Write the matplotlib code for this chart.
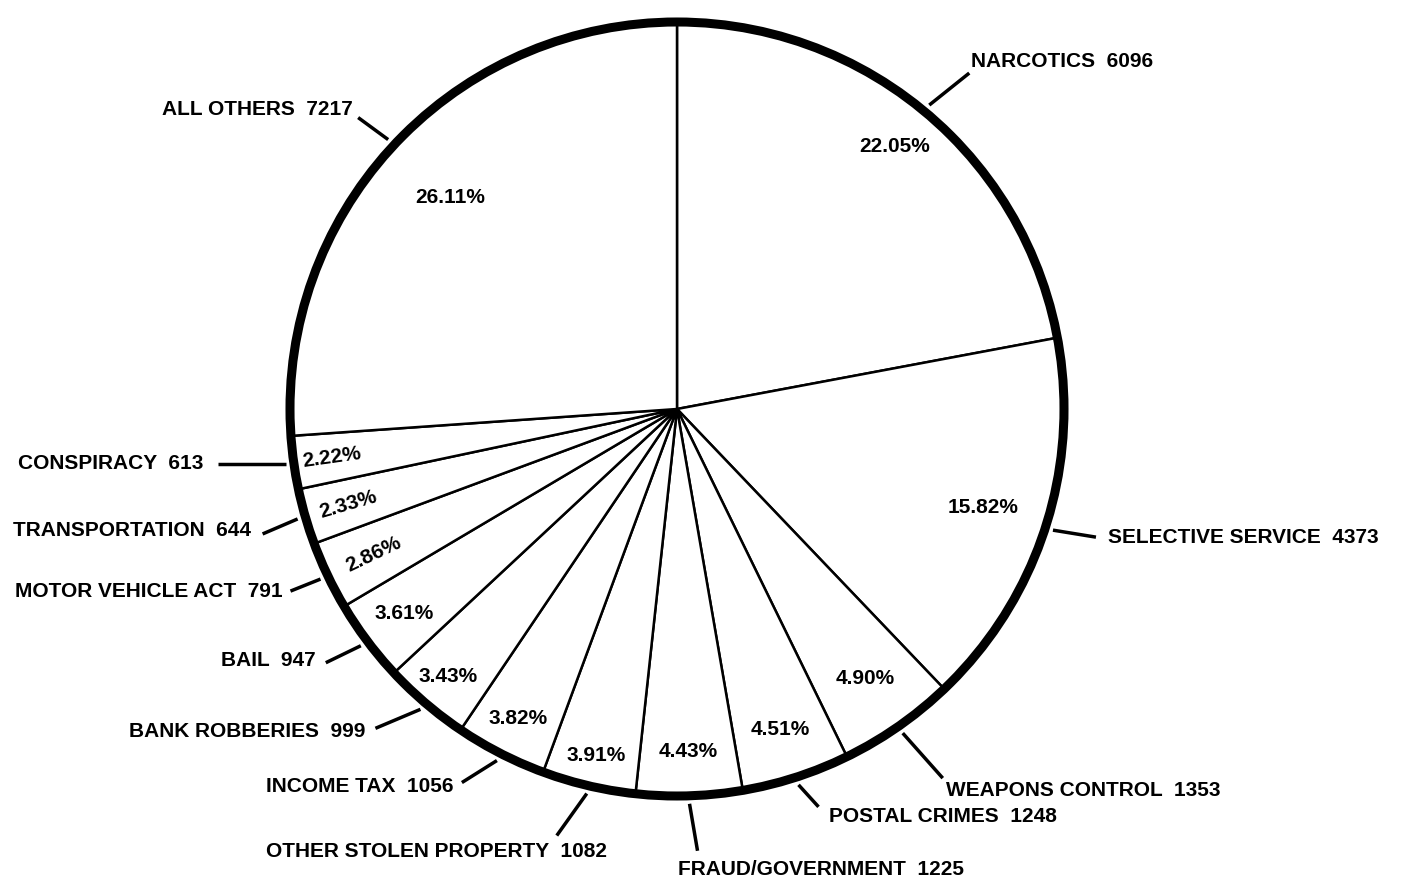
import matplotlib.pyplot as plt
import numpy as np

# data (clockwise from 12 o'clock)
categories = ['NARCOTICS', 'SELECTIVE SERVICE', 'WEAPONS CONTROL', 'POSTAL CRIMES',
              'FRAUD/GOVERNMENT', 'OTHER STOLEN PROPERTY', 'INCOME TAX', 'BANK ROBBERIES',
              'BAIL', 'MOTOR VEHICLE ACT', 'TRANSPORTATION', 'CONSPIRACY', 'ALL OTHERS']
counts = [6096, 4373, 1353, 1248, 1225, 1082, 1056, 999, 947, 791, 644, 613, 7217]
pct_labels = ['22.05%', '15.82%', '4.90%', '4.51%', '4.43%', '3.91%', '3.82%',
              '3.43%', '3.61%', '2.86%', '2.33%', '2.22%', '26.11%']

# layout: pct text radius, leader vector (px), text offset (px), alignment
pct_radius = [0.88, 0.83, 0.85, 0.87, 0.885, 0.92, 0.90, 0.91, 0.88, 0.87, 0.885, 0.90, 0.80]
pct_rotate = [False] * 9 + [True, True, True, False]
leader_vec = [(40, 32), (43, -7), (40, -45), (20, -22), (8, -47), (-30, -42), (-35, -22),
              (-45, -19), (-35, -17), (-30, -12), (-35, -15), (-68, 0), (-30, 22)]
text_off = [(2, 2), (12, 0), (3, -3), (10, -10), (-20, -9), (50, -6), (-8, -4),
            (-10, -3), (-10, 2), (-8, 0), (-12, 3), (-14, 0), (-5, 8)]
text_align = [('left', 'bottom'), ('left', 'center'), ('left', 'top'), ('left', 'center'),
              ('left', 'top'), ('right', 'top'), ('right', 'center'), ('right', 'center'),
              ('right', 'center'), ('right', 'center'), ('right', 'center'),
              ('right', 'center'), ('right', 'center')]

W, H = 1416, 886
cx, cy, R = 677, H - 409, 387

plt.rcParams['font.family'] = ['Liberation Sans', 'DejaVu Sans']

fig = plt.figure(figsize=(W / 100, H / 100), dpi=100)
ax = fig.add_axes([0, 0, 1, 1])

wedges, _ = ax.pie(counts, startangle=90, counterclock=False, center=(cx, cy), radius=R,
                   wedgeprops=dict(facecolor='white', edgecolor='black', linewidth=1.8))
ax.add_patch(plt.Circle((cx, cy), R, fill=False, edgecolor='black', linewidth=6.5, zorder=5))

for i, w in enumerate(wedges):
    mid = np.deg2rad((w.theta1 + w.theta2) / 2)
    # percentage inside the slice
    rot = 0
    if pct_rotate[i]:
        rot = np.rad2deg(mid) - 180 if np.rad2deg(mid) > 90 else np.rad2deg(mid) + 180
    ax.text(cx + pct_radius[i] * R * np.cos(mid), cy + pct_radius[i] * R * np.sin(mid),
            pct_labels[i], ha='center', va='center', rotation=rot,
            fontsize=15, fontweight='bold')
    # leader line and label outside
    x0 = cx + (R + 8) * np.cos(mid)
    y0 = cy + (R + 8) * np.sin(mid)
    x1, y1 = x0 + leader_vec[i][0], y0 + leader_vec[i][1]
    ax.plot([x0, x1], [y0, y1], color='black', lw=2.5, solid_capstyle='butt')
    ax.text(x1 + text_off[i][0], y1 + text_off[i][1], f'{categories[i]}  {counts[i]}',
            ha=text_align[i][0], va=text_align[i][1], fontsize=15, fontweight='bold')

ax.set_xlim(0, W)
ax.set_ylim(0, H)
ax.set_aspect('equal')
ax.axis('off')

fig.savefig('out.png', dpi=100, facecolor='white')
